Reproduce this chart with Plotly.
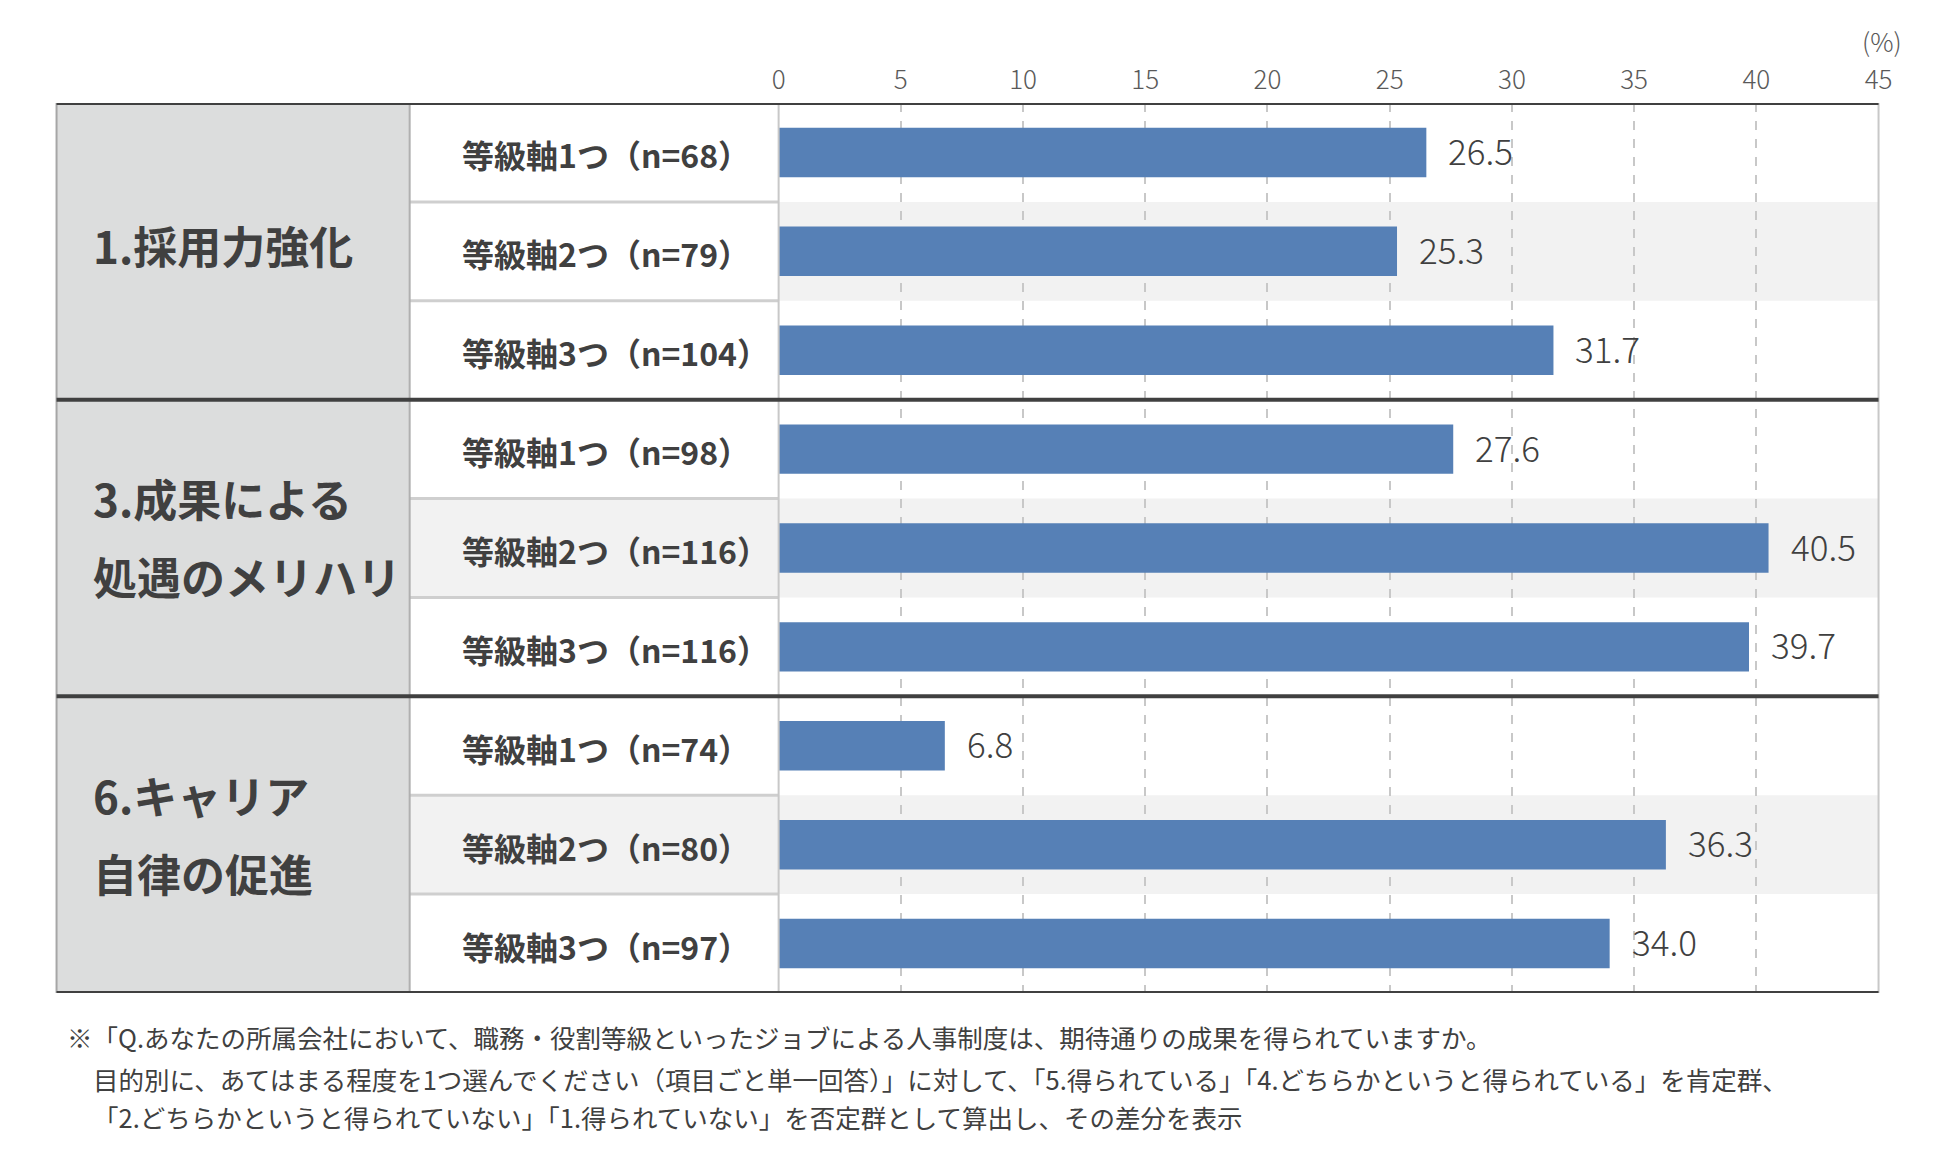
import plotly.graph_objects as go

# --- data ---
groups = ["1.採用力強化", "3.成果による<br>処遇のメリハリ", "6.キャリア<br>自律の促進"]
row_labels = [
    "等級軸1つ（n=68）", "等級軸2つ（n=79）", "等級軸3つ（n=104）",
    "等級軸1つ（n=98）", "等級軸2つ（n=116）", "等級軸3つ（n=116）",
    "等級軸1つ（n=74）", "等級軸2つ（n=80）", "等級軸3つ（n=97）",
]
values = [26.5, 25.3, 31.7, 27.6, 40.5, 39.7, 6.8, 36.3, 34.0]
tick_vals = [0, 5, 10, 15, 20, 25, 30, 35, 40, 45]
notes = [
    "※「Q.あなたの所属会社において、職務・役割等級といったジョブによる人事制度は、期待通りの成果を得られていますか。",
    "目的別に、あてはまる程度を1つ選んでください（項目ごと単一回答）」に対して、「5.得られている」「4.どちらかというと得られている」を肯定群、",
    "「2.どちらかというと得られていない」「1.得られていない」を否定群として算出し、その差分を表示",
]

# page is 1950x1173, the body has an 8px margin
PAD = 8
W, H = 1950 - 2 * PAD, 1173 - 2 * PAD
FONT = "Noto Sans CJK JP"
DARK = "#404040"
GREY_TXT = "#595959"
BAR = "#5680b6"
STRIPE = "#f2f2f2"

def fx(p):
    return (p - PAD) / W

def fy(p):
    return 1 - (p - PAD) / H

# table geometry in page pixels
TBL_L, CAT_R, LAB_R, PLOT_R = 50, 407, 780, 1892
TOP, BOT = 103, 993

n = len(values)
rows = list(range(n))

fig = go.Figure(go.Bar(
    x=values, y=rows, orientation="h", width=0.5,
    marker=dict(color=BAR, line=dict(width=0)),
    hoverinfo="skip",
))

shapes = []
# category column background
shapes.append(dict(type="rect", xref="paper", yref="y", x0=fx(TBL_L), x1=fx(CAT_R),
                   y0=-0.5, y1=n - 0.5, fillcolor="#dcdddd", line_width=0, layer="below"))
# middle row stripes
for g in range(len(groups)):
    mid = g * 3 + 1
    shapes.append(dict(type="rect", xref="x", yref="y", x0=0, x1=45, y0=mid - 0.5, y1=mid + 0.5,
                       fillcolor=STRIPE, line_width=0, layer="below"))
    if g > 0:
        shapes.append(dict(type="rect", xref="paper", yref="y", x0=fx(CAT_R), x1=fx(LAB_R),
                           y0=mid - 0.5, y1=mid + 0.5, fillcolor=STRIPE, line_width=0, layer="below"))
# thin separators between label rows
for i in range(n - 1):
    if (i + 1) % 3:
        shapes.append(dict(type="line", xref="paper", yref="y", x0=fx(CAT_R), x1=fx(LAB_R),
                           y0=i + 0.5, y1=i + 0.5, line=dict(color="#cfcfcf", width=3)))
# vertical borders
for px_, col in [(TBL_L, "#a6a6a6"), (CAT_R, "#b0b0b0"), (LAB_R, "#c8c8c8"), (PLOT_R, "#c8c8c8")]:
    shapes.append(dict(type="line", xref="paper", yref="y", x0=fx(px_), x1=fx(px_),
                       y0=-0.5, y1=n - 0.5, line=dict(color=col, width=2)))
# thick group lines
for yb in [-0.5, 2.5, 5.5, 8.5]:
    shapes.append(dict(type="line", xref="paper", yref="y", x0=fx(TBL_L), x1=fx(PLOT_R),
                       y0=yb, y1=yb, line=dict(color=DARK, width=4)))

ann = []
# group labels
for g, name in enumerate(groups):
    parts = name.split("<br>")
    shifts = [6] if len(parts) == 1 else [50, -28]
    for part, sh in zip(parts, shifts):
        ann.append(dict(text=part, xref="paper", yref="y", x=fx(85), y=g * 3 + 1, yshift=sh,
                        xanchor="left", yanchor="middle", showarrow=False,
                        font=dict(family=FONT, size=44, color=DARK, weight="bold")))
# row labels
for i, lab in enumerate(row_labels):
    ann.append(dict(text=lab, xref="paper", yref="y", x=fx(458), y=i, yshift=-2,
                    xanchor="left", yanchor="middle", showarrow=False,
                    font=dict(family=FONT, size=32, color=DARK, weight="bold")))
# value labels
for i, v in enumerate(values):
    ann.append(dict(text=f"{v:.1f}", xref="x", yref="y", x=v, y=i, xshift=20, yshift=3,
                    xanchor="left", yanchor="middle", showarrow=False,
                    font=dict(family=FONT, size=35, color=DARK, weight=300)))
# unit
ann.append(dict(text="(%)", xref="paper", yref="paper", x=fx(1895), y=fy(40),
                xanchor="center", yanchor="middle", showarrow=False,
                font=dict(family=FONT, size=26, color=GREY_TXT, weight=300)))
# footnotes
for txt, xp, yp in zip(notes, [59, 85, 85], [1036, 1078, 1116]):
    ann.append(dict(text=txt, xref="paper", yref="paper", x=fx(xp), y=fy(yp),
                    xanchor="left", yanchor="middle", showarrow=False,
                    font=dict(family=FONT, size=25.5, color=DARK)))

fig.update_layout(
    width=W, height=H,
    margin=dict(l=0, r=0, t=0, b=0),
    paper_bgcolor="white", plot_bgcolor="white",
    showlegend=False,
    shapes=shapes, annotations=ann,
    xaxis=dict(domain=[fx(LAB_R), fx(PLOT_R)], range=[0, 45], side="top",
               tickvals=tick_vals, ticks="", ticklabelstandoff=8,
               tickfont=dict(family=FONT, size=26, color=GREY_TXT, weight=300),
               showgrid=True, griddash="dash", gridcolor="#c8c8c8", gridwidth=2,
               zeroline=False, showline=False, fixedrange=True),
    yaxis=dict(domain=[fy(BOT), fy(TOP)], range=[n - 0.5, -0.5],
               showticklabels=False, showgrid=False, zeroline=False, fixedrange=True),
)

fig.write_html("out.html")
